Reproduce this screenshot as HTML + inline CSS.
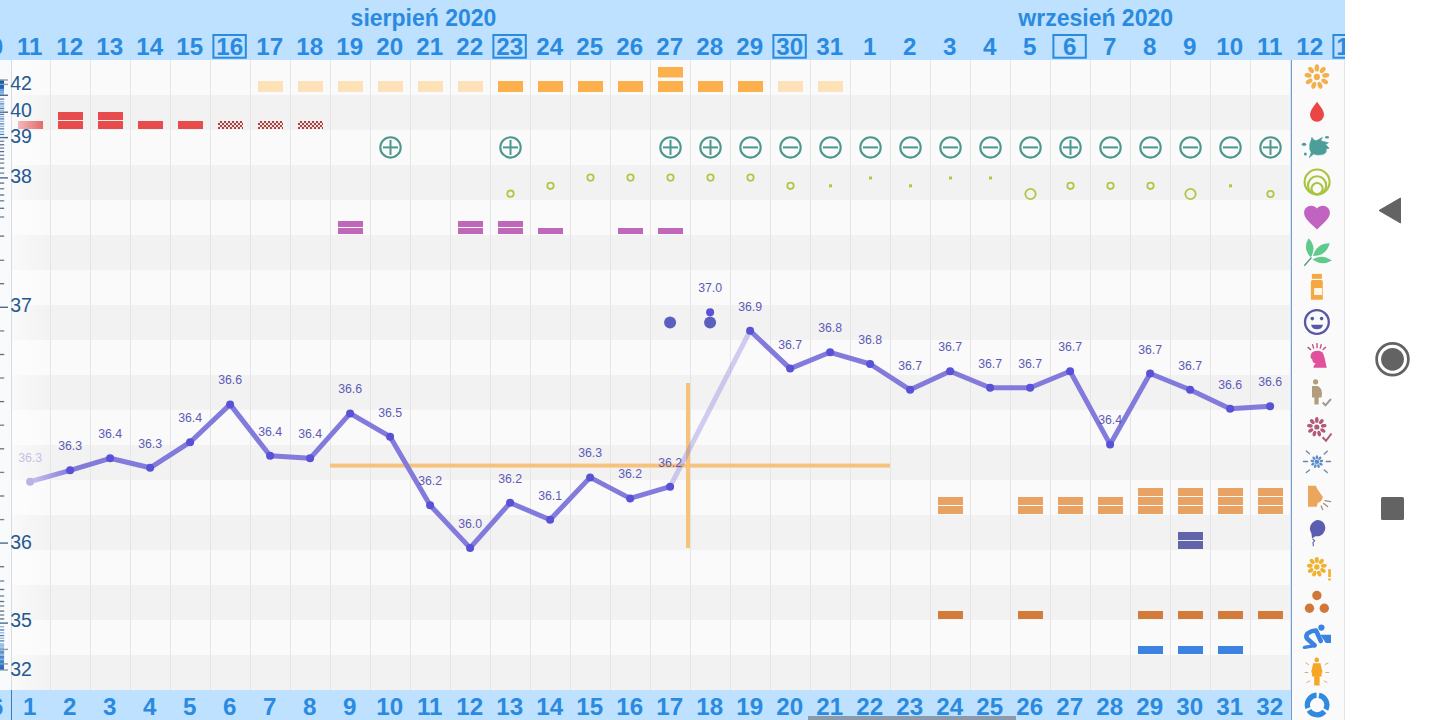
<!DOCTYPE html><html><head><meta charset="utf-8"><style>html,body{margin:0;padding:0;width:1440px;height:720px;overflow:hidden;background:#fff;}svg{display:block;font-family:"Liberation Sans",sans-serif;}</style></head><body><svg width="1440" height="720" viewBox="0 0 1440 720"><rect x="0" y="60" width="1291" height="35" fill="#fafafa"/><rect x="0" y="95" width="1291" height="35" fill="#f2f2f2"/><rect x="0" y="130" width="1291" height="35" fill="#fafafa"/><rect x="0" y="165" width="1291" height="35" fill="#f2f2f2"/><rect x="0" y="200" width="1291" height="35" fill="#fafafa"/><rect x="0" y="235" width="1291" height="35" fill="#f2f2f2"/><rect x="0" y="270" width="1291" height="35" fill="#fafafa"/><rect x="0" y="305" width="1291" height="35" fill="#f2f2f2"/><rect x="0" y="340" width="1291" height="35" fill="#fafafa"/><rect x="0" y="375" width="1291" height="35" fill="#f2f2f2"/><rect x="0" y="410" width="1291" height="35" fill="#fafafa"/><rect x="0" y="445" width="1291" height="35" fill="#f2f2f2"/><rect x="0" y="480" width="1291" height="35" fill="#fafafa"/><rect x="0" y="515" width="1291" height="35" fill="#f2f2f2"/><rect x="0" y="550" width="1291" height="35" fill="#fafafa"/><rect x="0" y="585" width="1291" height="35" fill="#f2f2f2"/><rect x="0" y="620" width="1291" height="35" fill="#fafafa"/><rect x="0" y="655" width="1291" height="35" fill="#f2f2f2"/><rect x="50" y="60" width="1" height="630" fill="#e5e5e5"/><rect x="90" y="60" width="1" height="630" fill="#e5e5e5"/><rect x="130" y="60" width="1" height="630" fill="#e5e5e5"/><rect x="170" y="60" width="1" height="630" fill="#e5e5e5"/><rect x="210" y="60" width="1" height="630" fill="#e5e5e5"/><rect x="250" y="60" width="1" height="630" fill="#e5e5e5"/><rect x="290" y="60" width="1" height="630" fill="#e5e5e5"/><rect x="330" y="60" width="1" height="630" fill="#e5e5e5"/><rect x="370" y="60" width="1" height="630" fill="#e5e5e5"/><rect x="410" y="60" width="1" height="630" fill="#e5e5e5"/><rect x="450" y="60" width="1" height="630" fill="#e5e5e5"/><rect x="490" y="60" width="1" height="630" fill="#e5e5e5"/><rect x="530" y="60" width="1" height="630" fill="#e5e5e5"/><rect x="570" y="60" width="1" height="630" fill="#e5e5e5"/><rect x="610" y="60" width="1" height="630" fill="#e5e5e5"/><rect x="650" y="60" width="1" height="630" fill="#e5e5e5"/><rect x="690" y="60" width="1" height="630" fill="#e5e5e5"/><rect x="730" y="60" width="1" height="630" fill="#e5e5e5"/><rect x="770" y="60" width="1" height="630" fill="#e5e5e5"/><rect x="810" y="60" width="1" height="630" fill="#e5e5e5"/><rect x="850" y="60" width="1" height="630" fill="#e5e5e5"/><rect x="890" y="60" width="1" height="630" fill="#e5e5e5"/><rect x="930" y="60" width="1" height="630" fill="#e5e5e5"/><rect x="970" y="60" width="1" height="630" fill="#e5e5e5"/><rect x="1010" y="60" width="1" height="630" fill="#e5e5e5"/><rect x="1050" y="60" width="1" height="630" fill="#e5e5e5"/><rect x="1090" y="60" width="1" height="630" fill="#e5e5e5"/><rect x="1130" y="60" width="1" height="630" fill="#e5e5e5"/><rect x="1170" y="60" width="1" height="630" fill="#e5e5e5"/><rect x="1210" y="60" width="1" height="630" fill="#e5e5e5"/><rect x="1250" y="60" width="1" height="630" fill="#e5e5e5"/><rect x="1290" y="60" width="1" height="630" fill="#d5e7f7"/><rect x="0" y="0" width="1345" height="60" fill="#bde1fe"/><text x="423.5" y="26" font-size="23" font-weight="bold" fill="#2a8ae0" text-anchor="middle">sierpień 2020</text><text x="1095.7" y="26" font-size="23" font-weight="bold" fill="#2a8ae0" text-anchor="middle">wrzesień 2020</text><text transform="translate(-10.30,55) scale(1.05,1)" font-size="23" font-weight="bold" fill="#2a8ae0" text-anchor="middle">10</text><text transform="translate(29.70,55) scale(1.05,1)" font-size="23" font-weight="bold" fill="#2a8ae0" text-anchor="middle">11</text><text transform="translate(69.70,55) scale(1.05,1)" font-size="23" font-weight="bold" fill="#2a8ae0" text-anchor="middle">12</text><text transform="translate(109.70,55) scale(1.05,1)" font-size="23" font-weight="bold" fill="#2a8ae0" text-anchor="middle">13</text><text transform="translate(149.70,55) scale(1.05,1)" font-size="23" font-weight="bold" fill="#2a8ae0" text-anchor="middle">14</text><text transform="translate(189.70,55) scale(1.05,1)" font-size="23" font-weight="bold" fill="#2a8ae0" text-anchor="middle">15</text><text transform="translate(229.70,55) scale(1.05,1)" font-size="23" font-weight="bold" fill="#2a8ae0" text-anchor="middle">16</text><rect x="213.39999999999998" y="35" width="32.4" height="22.7" fill="none" stroke="#2a8ae0" stroke-width="2"/><text transform="translate(269.70,55) scale(1.05,1)" font-size="23" font-weight="bold" fill="#2a8ae0" text-anchor="middle">17</text><text transform="translate(309.70,55) scale(1.05,1)" font-size="23" font-weight="bold" fill="#2a8ae0" text-anchor="middle">18</text><text transform="translate(349.70,55) scale(1.05,1)" font-size="23" font-weight="bold" fill="#2a8ae0" text-anchor="middle">19</text><text transform="translate(389.70,55) scale(1.05,1)" font-size="23" font-weight="bold" fill="#2a8ae0" text-anchor="middle">20</text><text transform="translate(429.70,55) scale(1.05,1)" font-size="23" font-weight="bold" fill="#2a8ae0" text-anchor="middle">21</text><text transform="translate(469.70,55) scale(1.05,1)" font-size="23" font-weight="bold" fill="#2a8ae0" text-anchor="middle">22</text><text transform="translate(509.70,55) scale(1.05,1)" font-size="23" font-weight="bold" fill="#2a8ae0" text-anchor="middle">23</text><rect x="493.4" y="35" width="32.4" height="22.7" fill="none" stroke="#2a8ae0" stroke-width="2"/><text transform="translate(549.70,55) scale(1.05,1)" font-size="23" font-weight="bold" fill="#2a8ae0" text-anchor="middle">24</text><text transform="translate(589.70,55) scale(1.05,1)" font-size="23" font-weight="bold" fill="#2a8ae0" text-anchor="middle">25</text><text transform="translate(629.70,55) scale(1.05,1)" font-size="23" font-weight="bold" fill="#2a8ae0" text-anchor="middle">26</text><text transform="translate(669.70,55) scale(1.05,1)" font-size="23" font-weight="bold" fill="#2a8ae0" text-anchor="middle">27</text><text transform="translate(709.70,55) scale(1.05,1)" font-size="23" font-weight="bold" fill="#2a8ae0" text-anchor="middle">28</text><text transform="translate(749.70,55) scale(1.05,1)" font-size="23" font-weight="bold" fill="#2a8ae0" text-anchor="middle">29</text><text transform="translate(789.70,55) scale(1.05,1)" font-size="23" font-weight="bold" fill="#2a8ae0" text-anchor="middle">30</text><rect x="773.4000000000001" y="35" width="32.4" height="22.7" fill="none" stroke="#2a8ae0" stroke-width="2"/><text transform="translate(829.70,55) scale(1.05,1)" font-size="23" font-weight="bold" fill="#2a8ae0" text-anchor="middle">31</text><text transform="translate(869.70,55) scale(1.05,1)" font-size="23" font-weight="bold" fill="#2a8ae0" text-anchor="middle">1</text><text transform="translate(909.70,55) scale(1.05,1)" font-size="23" font-weight="bold" fill="#2a8ae0" text-anchor="middle">2</text><text transform="translate(949.70,55) scale(1.05,1)" font-size="23" font-weight="bold" fill="#2a8ae0" text-anchor="middle">3</text><text transform="translate(989.70,55) scale(1.05,1)" font-size="23" font-weight="bold" fill="#2a8ae0" text-anchor="middle">4</text><text transform="translate(1029.70,55) scale(1.05,1)" font-size="23" font-weight="bold" fill="#2a8ae0" text-anchor="middle">5</text><text transform="translate(1069.70,55) scale(1.05,1)" font-size="23" font-weight="bold" fill="#2a8ae0" text-anchor="middle">6</text><rect x="1053.4" y="35" width="32.4" height="22.7" fill="none" stroke="#2a8ae0" stroke-width="2"/><text transform="translate(1109.70,55) scale(1.05,1)" font-size="23" font-weight="bold" fill="#2a8ae0" text-anchor="middle">7</text><text transform="translate(1149.70,55) scale(1.05,1)" font-size="23" font-weight="bold" fill="#2a8ae0" text-anchor="middle">8</text><text transform="translate(1189.70,55) scale(1.05,1)" font-size="23" font-weight="bold" fill="#2a8ae0" text-anchor="middle">9</text><text transform="translate(1229.70,55) scale(1.05,1)" font-size="23" font-weight="bold" fill="#2a8ae0" text-anchor="middle">10</text><text transform="translate(1269.70,55) scale(1.05,1)" font-size="23" font-weight="bold" fill="#2a8ae0" text-anchor="middle">11</text><text transform="translate(1309.70,55) scale(1.05,1)" font-size="23" font-weight="bold" fill="#2a8ae0" text-anchor="middle">12</text><text transform="translate(1349.70,55) scale(1.05,1)" font-size="23" font-weight="bold" fill="#2a8ae0" text-anchor="middle">13</text><rect x="1333.4" y="35" width="32.4" height="22.7" fill="none" stroke="#2a8ae0" stroke-width="2"/><rect x="0" y="690" width="1291" height="30" fill="#bde1fe"/><rect x="11" y="690" width="1" height="30" fill="#3c7ab8"/><text x="-9.5" y="715" font-size="23" font-weight="bold" fill="#2a8ae0" text-anchor="middle">26</text><text transform="translate(29.70,715) scale(1.05,1)" font-size="23" font-weight="bold" fill="#2a8ae0" text-anchor="middle">1</text><text transform="translate(69.70,715) scale(1.05,1)" font-size="23" font-weight="bold" fill="#2a8ae0" text-anchor="middle">2</text><text transform="translate(109.70,715) scale(1.05,1)" font-size="23" font-weight="bold" fill="#2a8ae0" text-anchor="middle">3</text><text transform="translate(149.70,715) scale(1.05,1)" font-size="23" font-weight="bold" fill="#2a8ae0" text-anchor="middle">4</text><text transform="translate(189.70,715) scale(1.05,1)" font-size="23" font-weight="bold" fill="#2a8ae0" text-anchor="middle">5</text><text transform="translate(229.70,715) scale(1.05,1)" font-size="23" font-weight="bold" fill="#2a8ae0" text-anchor="middle">6</text><text transform="translate(269.70,715) scale(1.05,1)" font-size="23" font-weight="bold" fill="#2a8ae0" text-anchor="middle">7</text><text transform="translate(309.70,715) scale(1.05,1)" font-size="23" font-weight="bold" fill="#2a8ae0" text-anchor="middle">8</text><text transform="translate(349.70,715) scale(1.05,1)" font-size="23" font-weight="bold" fill="#2a8ae0" text-anchor="middle">9</text><text transform="translate(389.70,715) scale(1.05,1)" font-size="23" font-weight="bold" fill="#2a8ae0" text-anchor="middle">10</text><text transform="translate(429.70,715) scale(1.05,1)" font-size="23" font-weight="bold" fill="#2a8ae0" text-anchor="middle">11</text><text transform="translate(469.70,715) scale(1.05,1)" font-size="23" font-weight="bold" fill="#2a8ae0" text-anchor="middle">12</text><text transform="translate(509.70,715) scale(1.05,1)" font-size="23" font-weight="bold" fill="#2a8ae0" text-anchor="middle">13</text><text transform="translate(549.70,715) scale(1.05,1)" font-size="23" font-weight="bold" fill="#2a8ae0" text-anchor="middle">14</text><text transform="translate(589.70,715) scale(1.05,1)" font-size="23" font-weight="bold" fill="#2a8ae0" text-anchor="middle">15</text><text transform="translate(629.70,715) scale(1.05,1)" font-size="23" font-weight="bold" fill="#2a8ae0" text-anchor="middle">16</text><text transform="translate(669.70,715) scale(1.05,1)" font-size="23" font-weight="bold" fill="#2a8ae0" text-anchor="middle">17</text><text transform="translate(709.70,715) scale(1.05,1)" font-size="23" font-weight="bold" fill="#2a8ae0" text-anchor="middle">18</text><text transform="translate(749.70,715) scale(1.05,1)" font-size="23" font-weight="bold" fill="#2a8ae0" text-anchor="middle">19</text><text transform="translate(789.70,715) scale(1.05,1)" font-size="23" font-weight="bold" fill="#2a8ae0" text-anchor="middle">20</text><text transform="translate(829.70,715) scale(1.05,1)" font-size="23" font-weight="bold" fill="#2a8ae0" text-anchor="middle">21</text><text transform="translate(869.70,715) scale(1.05,1)" font-size="23" font-weight="bold" fill="#2a8ae0" text-anchor="middle">22</text><text transform="translate(909.70,715) scale(1.05,1)" font-size="23" font-weight="bold" fill="#2a8ae0" text-anchor="middle">23</text><text transform="translate(949.70,715) scale(1.05,1)" font-size="23" font-weight="bold" fill="#2a8ae0" text-anchor="middle">24</text><text transform="translate(989.70,715) scale(1.05,1)" font-size="23" font-weight="bold" fill="#2a8ae0" text-anchor="middle">25</text><text transform="translate(1029.70,715) scale(1.05,1)" font-size="23" font-weight="bold" fill="#2a8ae0" text-anchor="middle">26</text><text transform="translate(1069.70,715) scale(1.05,1)" font-size="23" font-weight="bold" fill="#2a8ae0" text-anchor="middle">27</text><text transform="translate(1109.70,715) scale(1.05,1)" font-size="23" font-weight="bold" fill="#2a8ae0" text-anchor="middle">28</text><text transform="translate(1149.70,715) scale(1.05,1)" font-size="23" font-weight="bold" fill="#2a8ae0" text-anchor="middle">29</text><text transform="translate(1189.70,715) scale(1.05,1)" font-size="23" font-weight="bold" fill="#2a8ae0" text-anchor="middle">30</text><text transform="translate(1229.70,715) scale(1.05,1)" font-size="23" font-weight="bold" fill="#2a8ae0" text-anchor="middle">31</text><text transform="translate(1269.70,715) scale(1.05,1)" font-size="23" font-weight="bold" fill="#2a8ae0" text-anchor="middle">32</text><rect x="808" y="716" width="208" height="4" fill="#8c9bab"/><rect x="1291" y="60" width="54" height="660" fill="#fafafa"/><rect x="1291" y="60" width="1" height="660" fill="#7a9cc4"/><rect x="1344" y="60" width="1" height="660" fill="#e4e4e4"/><defs><linearGradient id="lf" x1="0" x2="1"><stop offset="0" stop-color="#ffffff" stop-opacity="0.55"/><stop offset="1" stop-color="#ffffff" stop-opacity="0"/></linearGradient></defs><rect x="12" y="60" width="40" height="630" fill="url(#lf)"/><rect x="0" y="60" width="11" height="630" fill="#f8fafc"/><rect x="11" y="60" width="1" height="630" fill="#d3dde8"/><defs><linearGradient id="gtop" x1="0" y1="0" x2="0" y2="1"><stop offset="0" stop-color="#12589f"/><stop offset="0.5" stop-color="#1d68bb"/><stop offset="1" stop-color="#7fb0e0"/></linearGradient><linearGradient id="gbot" x1="0" y1="0" x2="0" y2="1"><stop offset="0" stop-color="#a6c8ea"/><stop offset="0.6" stop-color="#4f8fd2"/><stop offset="1" stop-color="#1763bd"/></linearGradient></defs><rect x="0" y="79.8" width="4" height="15.7" fill="url(#gtop)"/><rect x="0" y="643" width="4" height="27" fill="url(#gbot)"/><rect x="0" y="89.5" width="4" height="0.8" fill="#f8fafc" opacity="0.7"/><rect x="0" y="91.5" width="4" height="0.8" fill="#f8fafc" opacity="0.7"/><rect x="0" y="93.5" width="4" height="0.8" fill="#f8fafc" opacity="0.7"/><rect x="0" y="646.5" width="4" height="0.8" fill="#f8fafc" opacity="0.7"/><rect x="0" y="650.8" width="4" height="0.8" fill="#f8fafc" opacity="0.7"/><rect x="0" y="655.5" width="4" height="0.8" fill="#f8fafc" opacity="0.7"/><rect x="0" y="98.44999999999999" width="4.2" height="1.3" fill="#4f7fb8"/><rect x="0" y="101.05" width="4.2" height="1.3" fill="#8fb6e0"/><rect x="0" y="103.25" width="4.2" height="1.3" fill="#4f7fb8"/><rect x="0" y="105.44999999999999" width="4.2" height="1.3" fill="#8fb6e0"/><rect x="0" y="107.64999999999999" width="4.2" height="1.3" fill="#4f7fb8"/><rect x="0" y="109.55" width="4.2" height="1.3" fill="#8fb6e0"/><rect x="0" y="113.75" width="4.2" height="1.3" fill="#4f7fb8"/><rect x="0" y="116.05" width="4.2" height="1.3" fill="#8fb6e0"/><rect x="0" y="118.25" width="4.2" height="1.3" fill="#4f7fb8"/><rect x="0" y="120.64999999999999" width="4.2" height="1.3" fill="#8fb6e0"/><rect x="0" y="123.25" width="4.2" height="1.3" fill="#4f7fb8"/><rect x="0" y="125.75" width="4.2" height="1.3" fill="#8fb6e0"/><rect x="0" y="128.25" width="4.2" height="1.3" fill="#4f7fb8"/><rect x="0" y="131.04999999999998" width="4.2" height="1.3" fill="#8fb6e0"/><rect x="0" y="133.75" width="4.2" height="1.3" fill="#4f7fb8"/><rect x="0" y="140.6" width="4.2" height="1.3" fill="#6d8298"/><rect x="0" y="144.1" width="4.2" height="1.3" fill="#5b7088"/><rect x="0" y="147.45" width="4.2" height="1.3" fill="#6d8298"/><rect x="0" y="150.95" width="4.2" height="1.3" fill="#5b7088"/><rect x="0" y="154.6" width="4.2" height="1.3" fill="#6d8298"/><rect x="0" y="158.35" width="4.2" height="1.3" fill="#5b7088"/><rect x="0" y="162.45" width="4.2" height="1.3" fill="#6d8298"/><rect x="0" y="167.45" width="4.2" height="1.3" fill="#5b7088"/><rect x="0" y="172.45" width="4.2" height="1.3" fill="#6d8298"/><rect x="0" y="182.45" width="4.2" height="1.3" fill="#5b7088"/><rect x="0" y="188.1" width="4.2" height="1.3" fill="#6d8298"/><rect x="0" y="194.35" width="4.2" height="1.3" fill="#5b7088"/><rect x="0" y="200.15" width="4.2" height="1.3" fill="#6d8298"/><rect x="0" y="207.65" width="4.2" height="1.3" fill="#5b7088"/><rect x="0" y="216.35" width="4.2" height="1.3" fill="#6d8298"/><rect x="0" y="235.45" width="4.2" height="1.3" fill="#5b7088"/><rect x="0" y="259.65000000000003" width="4.2" height="1.3" fill="#6d8298"/><rect x="0" y="283.05" width="4.2" height="1.3" fill="#5b7088"/><rect x="0" y="330.25" width="4.2" height="1.3" fill="#6d8298"/><rect x="0" y="353.85" width="4.2" height="1.3" fill="#5b7088"/><rect x="0" y="377.35" width="4.2" height="1.3" fill="#6d8298"/><rect x="0" y="400.95000000000005" width="4.2" height="1.3" fill="#5b7088"/><rect x="0" y="424.55" width="4.2" height="1.3" fill="#6d8298"/><rect x="0" y="448.15000000000003" width="4.2" height="1.3" fill="#5b7088"/><rect x="0" y="471.75" width="4.2" height="1.3" fill="#6d8298"/><rect x="0" y="495.35" width="4.2" height="1.3" fill="#5b7088"/><rect x="0" y="518.95" width="4.2" height="1.3" fill="#6d8298"/><rect x="0" y="566.0500000000001" width="4.2" height="1.3" fill="#5b7088"/><rect x="0" y="580.35" width="4.2" height="1.3" fill="#6d8298"/><rect x="0" y="588.85" width="4.2" height="1.3" fill="#5b7088"/><rect x="0" y="595.35" width="4.2" height="1.3" fill="#6d8298"/><rect x="0" y="600.85" width="4.2" height="1.3" fill="#5b7088"/><rect x="0" y="605.35" width="4.2" height="1.3" fill="#6d8298"/><rect x="0" y="610.45" width="4.2" height="1.3" fill="#5b7088"/><rect x="0" y="614.35" width="4.2" height="1.3" fill="#6d8298"/><rect x="0" y="618.25" width="4.2" height="1.3" fill="#5b7088"/><rect x="0" y="626.0500000000001" width="4.2" height="1.3" fill="#8fb6e0"/><rect x="0" y="629.35" width="4.2" height="1.3" fill="#4f7fb8"/><rect x="0" y="632.15" width="4.2" height="1.3" fill="#8fb6e0"/><rect x="0" y="634.95" width="4.2" height="1.3" fill="#4f7fb8"/><rect x="0" y="637.65" width="4.2" height="1.3" fill="#8fb6e0"/><rect x="0" y="640.25" width="4.2" height="1.3" fill="#4f7fb8"/><rect x="0" y="645.15" width="4.2" height="1.3" fill="#8fb6e0"/><rect x="0" y="651.35" width="4.2" height="1.3" fill="#4f7fb8"/><rect x="0" y="653.75" width="4.2" height="1.3" fill="#8fb6e0"/><rect x="0" y="656.0500000000001" width="4.2" height="1.3" fill="#4f7fb8"/><rect x="0" y="658.75" width="4.2" height="1.3" fill="#8fb6e0"/><rect x="0" y="79.3" width="8" height="1.4" fill="#8e9eae"/><rect x="0" y="83.7" width="8" height="1.4" fill="#8e9eae"/><rect x="0" y="94.6" width="8" height="1.4" fill="#4d6c8c"/><rect x="0" y="111.5" width="8" height="1.4" fill="#4d6c8c"/><rect x="0" y="136.9" width="8" height="1.4" fill="#4d6c8c"/><rect x="0" y="177.20000000000002" width="8" height="1.4" fill="#4d6c8c"/><rect x="0" y="306.6" width="8" height="1.4" fill="#4d6c8c"/><rect x="0" y="542.4" width="8" height="1.4" fill="#4d6c8c"/><rect x="0" y="622.4" width="8" height="1.4" fill="#4d6c8c"/><rect x="0" y="648.6999999999999" width="8" height="1.4" fill="#8e9eae"/><rect x="0" y="663.1999999999999" width="8" height="1.4" fill="#8e9eae"/><rect x="0" y="669.3" width="8" height="1.4" fill="#8e9eae"/><text x="10.2" y="90" font-size="19.5" fill="#25598f">42</text><text x="10.2" y="117" font-size="19.5" fill="#25598f">40</text><text x="10.2" y="143.3" font-size="19.5" fill="#25598f">39</text><text x="10.2" y="183" font-size="19.5" fill="#25598f">38</text><text x="10.2" y="312" font-size="19.5" fill="#25598f">37</text><text x="10.2" y="549.2" font-size="19.5" fill="#25598f">36</text><text x="10.2" y="626.7" font-size="19.5" fill="#25598f">35</text><text x="10.2" y="676.4" font-size="19.5" fill="#25598f">32</text><rect x="258.0" y="81" width="25" height="11" fill="#fde1b9"/><rect x="298.0" y="81" width="25" height="11" fill="#fde1b9"/><rect x="338.0" y="81" width="25" height="11" fill="#fde1b9"/><rect x="378.0" y="81" width="25" height="11" fill="#fde1b9"/><rect x="418.0" y="81" width="25" height="11" fill="#fde1b9"/><rect x="458.0" y="81" width="25" height="11" fill="#fde1b9"/><rect x="498.0" y="81" width="25" height="11" fill="#fbb04b"/><rect x="538.0" y="81" width="25" height="11" fill="#fbb04b"/><rect x="578.0" y="81" width="25" height="11" fill="#fbb04b"/><rect x="618.0" y="81" width="25" height="11" fill="#fbb04b"/><rect x="658.0" y="81" width="25" height="11" fill="#fbb04b"/><rect x="698.0" y="81" width="25" height="11" fill="#fbb04b"/><rect x="738.0" y="81" width="25" height="11" fill="#fbb04b"/><rect x="658.0" y="67" width="25" height="10.5" fill="#fbb04b"/><rect x="778.0" y="81" width="25" height="11" fill="#fde1b9"/><rect x="818.0" y="81" width="25" height="11" fill="#fde1b9"/><defs><linearGradient id="pk" x1="0" x2="1" y1="0" y2="0"><stop offset="0" stop-color="#f4b9b9"/><stop offset="1" stop-color="#e46a6a"/></linearGradient><pattern id="chk" x="0" y="121" width="4" height="4" patternUnits="userSpaceOnUse"><rect width="4" height="4" fill="#f8e2e2"/><rect width="2" height="2" fill="#a94444"/><rect x="2" y="2" width="2" height="2" fill="#a94444"/></pattern><linearGradient id="t1" x1="0" x2="1"><stop offset="0" stop-color="#c9c4ee"/><stop offset="1" stop-color="#837bdc"/></linearGradient></defs><rect x="18.0" y="121" width="25" height="8" fill="url(#pk)"/><rect x="58.0" y="112" width="25" height="8" fill="#e84b4b"/><rect x="58.0" y="121" width="25" height="8" fill="#e84b4b"/><rect x="98.0" y="112" width="25" height="8" fill="#e84b4b"/><rect x="98.0" y="121" width="25" height="8" fill="#e84b4b"/><rect x="138.0" y="121" width="25" height="8" fill="#e84b4b"/><rect x="178.0" y="121" width="25" height="8" fill="#e84b4b"/><rect x="218.0" y="121" width="25" height="8" fill="url(#chk)"/><rect x="258.0" y="121" width="25" height="8" fill="url(#chk)"/><rect x="298.0" y="121" width="25" height="8" fill="url(#chk)"/><circle cx="390.5" cy="147.4" r="10.2" fill="none" stroke="#4c9891" stroke-width="2.1"/><rect x="383.0" y="146.4" width="15" height="2" fill="#4c9891"/><rect x="389.5" y="139.9" width="2" height="15" fill="#4c9891"/><circle cx="510.5" cy="147.4" r="10.2" fill="none" stroke="#4c9891" stroke-width="2.1"/><rect x="503.0" y="146.4" width="15" height="2" fill="#4c9891"/><rect x="509.5" y="139.9" width="2" height="15" fill="#4c9891"/><circle cx="670.5" cy="147.4" r="10.2" fill="none" stroke="#4c9891" stroke-width="2.1"/><rect x="663.0" y="146.4" width="15" height="2" fill="#4c9891"/><rect x="669.5" y="139.9" width="2" height="15" fill="#4c9891"/><circle cx="710.5" cy="147.4" r="10.2" fill="none" stroke="#4c9891" stroke-width="2.1"/><rect x="703.0" y="146.4" width="15" height="2" fill="#4c9891"/><rect x="709.5" y="139.9" width="2" height="15" fill="#4c9891"/><circle cx="750.5" cy="147.4" r="10.2" fill="none" stroke="#4c9891" stroke-width="2.1"/><rect x="743.0" y="146.4" width="15" height="2" fill="#4c9891"/><circle cx="790.5" cy="147.4" r="10.2" fill="none" stroke="#4c9891" stroke-width="2.1"/><rect x="783.0" y="146.4" width="15" height="2" fill="#4c9891"/><circle cx="830.5" cy="147.4" r="10.2" fill="none" stroke="#4c9891" stroke-width="2.1"/><rect x="823.0" y="146.4" width="15" height="2" fill="#4c9891"/><circle cx="870.5" cy="147.4" r="10.2" fill="none" stroke="#4c9891" stroke-width="2.1"/><rect x="863.0" y="146.4" width="15" height="2" fill="#4c9891"/><circle cx="910.5" cy="147.4" r="10.2" fill="none" stroke="#4c9891" stroke-width="2.1"/><rect x="903.0" y="146.4" width="15" height="2" fill="#4c9891"/><circle cx="950.5" cy="147.4" r="10.2" fill="none" stroke="#4c9891" stroke-width="2.1"/><rect x="943.0" y="146.4" width="15" height="2" fill="#4c9891"/><circle cx="990.5" cy="147.4" r="10.2" fill="none" stroke="#4c9891" stroke-width="2.1"/><rect x="983.0" y="146.4" width="15" height="2" fill="#4c9891"/><circle cx="1030.5" cy="147.4" r="10.2" fill="none" stroke="#4c9891" stroke-width="2.1"/><rect x="1023.0" y="146.4" width="15" height="2" fill="#4c9891"/><circle cx="1070.5" cy="147.4" r="10.2" fill="none" stroke="#4c9891" stroke-width="2.1"/><rect x="1063.0" y="146.4" width="15" height="2" fill="#4c9891"/><rect x="1069.5" y="139.9" width="2" height="15" fill="#4c9891"/><circle cx="1110.5" cy="147.4" r="10.2" fill="none" stroke="#4c9891" stroke-width="2.1"/><rect x="1103.0" y="146.4" width="15" height="2" fill="#4c9891"/><circle cx="1150.5" cy="147.4" r="10.2" fill="none" stroke="#4c9891" stroke-width="2.1"/><rect x="1143.0" y="146.4" width="15" height="2" fill="#4c9891"/><circle cx="1190.5" cy="147.4" r="10.2" fill="none" stroke="#4c9891" stroke-width="2.1"/><rect x="1183.0" y="146.4" width="15" height="2" fill="#4c9891"/><circle cx="1230.5" cy="147.4" r="10.2" fill="none" stroke="#4c9891" stroke-width="2.1"/><rect x="1223.0" y="146.4" width="15" height="2" fill="#4c9891"/><circle cx="1270.5" cy="147.4" r="10.2" fill="none" stroke="#4c9891" stroke-width="2.1"/><rect x="1263.0" y="146.4" width="15" height="2" fill="#4c9891"/><rect x="1269.5" y="139.9" width="2" height="15" fill="#4c9891"/><circle cx="510.5" cy="193.7" r="3.2" fill="none" stroke="#b0c744" stroke-width="1.8"/><circle cx="550.5" cy="185.8" r="3.2" fill="none" stroke="#b0c744" stroke-width="1.8"/><circle cx="590.5" cy="177.6" r="3.2" fill="none" stroke="#b0c744" stroke-width="1.8"/><circle cx="630.5" cy="177.6" r="3.2" fill="none" stroke="#b0c744" stroke-width="1.8"/><circle cx="670.5" cy="177.6" r="3.2" fill="none" stroke="#b0c744" stroke-width="1.8"/><circle cx="710.5" cy="177.6" r="3.2" fill="none" stroke="#b0c744" stroke-width="1.8"/><circle cx="750.5" cy="177.6" r="3.2" fill="none" stroke="#b0c744" stroke-width="1.8"/><circle cx="790.5" cy="185.8" r="3.2" fill="none" stroke="#b0c744" stroke-width="1.8"/><rect x="829.0" y="184.3" width="3" height="3" fill="#b0c744"/><rect x="869.0" y="176.5" width="3" height="3" fill="#b0c744"/><rect x="909.0" y="184.3" width="3" height="3" fill="#b0c744"/><rect x="949.0" y="176.5" width="3" height="3" fill="#b0c744"/><rect x="989.0" y="176.5" width="3" height="3" fill="#b0c744"/><circle cx="1030.5" cy="194" r="5.2" fill="none" stroke="#b0c744" stroke-width="1.8"/><circle cx="1070.5" cy="185.8" r="3.2" fill="none" stroke="#b0c744" stroke-width="1.8"/><circle cx="1110.5" cy="185.8" r="3.2" fill="none" stroke="#b0c744" stroke-width="1.8"/><circle cx="1150.5" cy="185.8" r="3.2" fill="none" stroke="#b0c744" stroke-width="1.8"/><circle cx="1190.5" cy="194" r="5.2" fill="none" stroke="#b0c744" stroke-width="1.8"/><rect x="1229.0" y="184.3" width="3" height="3" fill="#b0c744"/><circle cx="1270.5" cy="194" r="3.2" fill="none" stroke="#b0c744" stroke-width="1.8"/><rect x="338.0" y="221" width="25" height="6" fill="#c067b9"/><rect x="338.0" y="228" width="25" height="6" fill="#c067b9"/><rect x="458.0" y="221" width="25" height="6" fill="#c067b9"/><rect x="458.0" y="228" width="25" height="6" fill="#c067b9"/><rect x="498.0" y="221" width="25" height="6" fill="#c067b9"/><rect x="498.0" y="228" width="25" height="6" fill="#c067b9"/><rect x="538.0" y="228" width="25" height="6" fill="#c067b9"/><rect x="618.0" y="228" width="25" height="6" fill="#c067b9"/><rect x="658.0" y="228" width="25" height="6" fill="#c067b9"/><rect x="938.0" y="497" width="25" height="8" fill="#e8a263"/><rect x="938.0" y="506" width="25" height="8" fill="#e8a263"/><rect x="1018.0" y="497" width="25" height="8" fill="#e8a263"/><rect x="1018.0" y="506" width="25" height="8" fill="#e8a263"/><rect x="1058.0" y="497" width="25" height="8" fill="#e8a263"/><rect x="1058.0" y="506" width="25" height="8" fill="#e8a263"/><rect x="1098.0" y="497" width="25" height="8" fill="#e8a263"/><rect x="1098.0" y="506" width="25" height="8" fill="#e8a263"/><rect x="1138.0" y="488" width="25" height="8" fill="#e8a263"/><rect x="1138.0" y="497" width="25" height="8" fill="#e8a263"/><rect x="1138.0" y="506" width="25" height="8" fill="#e8a263"/><rect x="1178.0" y="488" width="25" height="8" fill="#e8a263"/><rect x="1178.0" y="497" width="25" height="8" fill="#e8a263"/><rect x="1178.0" y="506" width="25" height="8" fill="#e8a263"/><rect x="1218.0" y="488" width="25" height="8" fill="#e8a263"/><rect x="1218.0" y="497" width="25" height="8" fill="#e8a263"/><rect x="1218.0" y="506" width="25" height="8" fill="#e8a263"/><rect x="1258.0" y="488" width="25" height="8" fill="#e8a263"/><rect x="1258.0" y="497" width="25" height="8" fill="#e8a263"/><rect x="1258.0" y="506" width="25" height="8" fill="#e8a263"/><rect x="1178.0" y="532" width="25" height="8" fill="#6264ab"/><rect x="1178.0" y="541" width="25" height="8" fill="#6264ab"/><rect x="938.0" y="611" width="25" height="8" fill="#d27b3b"/><rect x="1018.0" y="611" width="25" height="8" fill="#d27b3b"/><rect x="1138.0" y="611" width="25" height="8" fill="#d27b3b"/><rect x="1178.0" y="611" width="25" height="8" fill="#d27b3b"/><rect x="1218.0" y="611" width="25" height="8" fill="#d27b3b"/><rect x="1258.0" y="611" width="25" height="8" fill="#d27b3b"/><rect x="1138.0" y="646" width="25" height="8" fill="#3d83e2"/><rect x="1178.0" y="646" width="25" height="8" fill="#3d83e2"/><rect x="1218.0" y="646" width="25" height="8" fill="#3d83e2"/><rect x="330" y="463.6" width="560" height="4" fill="#f6c27c"/><rect x="686" y="383" width="4" height="165" fill="#f6c27c"/><line x1="670.1" y1="486.7" x2="750.1" y2="330.7" stroke="#837bdc" stroke-opacity="0.36" stroke-width="5"/><line x1="30.1" y1="481.7" x2="70.1" y2="470.3" stroke="url(#t1)" stroke-width="5"/><polyline points="70.1,470.3 110.1,458.3 150.1,467.8 190.1,442.2 230.1,404.4 270.1,455.8 310.1,458.3 350.1,413.4 390.1,436.7 430.1,505.2 470.1,547.9 510.1,502.8 550.1,519.7 590.1,477.4 630.1,498.4 670.1,486.7" fill="none" stroke="#837bdc" stroke-width="5" stroke-linejoin="round"/><polyline points="750.1,330.7 790.1,368.6 830.1,352.3 870.1,364 910.1,389.8 950.1,371.3 990.1,387.8 1030.1,387.8 1070.1,371.3 1110.1,444.4 1150.1,373.5 1190.1,389.8 1230.1,408.8 1270.1,406.3" fill="none" stroke="#837bdc" stroke-width="5" stroke-linejoin="round"/><circle cx="30.1" cy="481.7" r="4" fill="#b9b4e6"/><text x="30.1" y="461.7" font-size="12.3" fill="#c4c0e6" text-anchor="middle">36.3</text><circle cx="70.1" cy="470.3" r="4" fill="#5a52d6"/><text x="70.1" y="450.3" font-size="12.3" fill="#5f5ab8" text-anchor="middle">36.3</text><circle cx="110.1" cy="458.3" r="4" fill="#5a52d6"/><text x="110.1" y="438.3" font-size="12.3" fill="#5f5ab8" text-anchor="middle">36.4</text><circle cx="150.1" cy="467.8" r="4" fill="#5a52d6"/><text x="150.1" y="447.8" font-size="12.3" fill="#5f5ab8" text-anchor="middle">36.3</text><circle cx="190.1" cy="442.2" r="4" fill="#5a52d6"/><text x="190.1" y="422.2" font-size="12.3" fill="#5f5ab8" text-anchor="middle">36.4</text><circle cx="230.1" cy="404.4" r="4" fill="#5a52d6"/><text x="230.1" y="384.4" font-size="12.3" fill="#5f5ab8" text-anchor="middle">36.6</text><circle cx="270.1" cy="455.8" r="4" fill="#5a52d6"/><text x="270.1" y="435.8" font-size="12.3" fill="#5f5ab8" text-anchor="middle">36.4</text><circle cx="310.1" cy="458.3" r="4" fill="#5a52d6"/><text x="310.1" y="438.3" font-size="12.3" fill="#5f5ab8" text-anchor="middle">36.4</text><circle cx="350.1" cy="413.4" r="4" fill="#5a52d6"/><text x="350.1" y="393.4" font-size="12.3" fill="#5f5ab8" text-anchor="middle">36.6</text><circle cx="390.1" cy="436.7" r="4" fill="#5a52d6"/><text x="390.1" y="416.7" font-size="12.3" fill="#5f5ab8" text-anchor="middle">36.5</text><circle cx="430.1" cy="505.2" r="4" fill="#5a52d6"/><text x="430.1" y="485.2" font-size="12.3" fill="#5f5ab8" text-anchor="middle">36.2</text><circle cx="470.1" cy="547.9" r="4" fill="#5a52d6"/><text x="470.1" y="527.9" font-size="12.3" fill="#5f5ab8" text-anchor="middle">36.0</text><circle cx="510.1" cy="502.8" r="4" fill="#5a52d6"/><text x="510.1" y="482.8" font-size="12.3" fill="#5f5ab8" text-anchor="middle">36.2</text><circle cx="550.1" cy="519.7" r="4" fill="#5a52d6"/><text x="550.1" y="499.70000000000005" font-size="12.3" fill="#5f5ab8" text-anchor="middle">36.1</text><circle cx="590.1" cy="477.4" r="4" fill="#5a52d6"/><text x="590.1" y="457.4" font-size="12.3" fill="#5f5ab8" text-anchor="middle">36.3</text><circle cx="630.1" cy="498.4" r="4" fill="#5a52d6"/><text x="630.1" y="478.4" font-size="12.3" fill="#5f5ab8" text-anchor="middle">36.2</text><circle cx="670.1" cy="486.7" r="4" fill="#5a52d6"/><text x="670.1" y="466.7" font-size="12.3" fill="#5f5ab8" text-anchor="middle">36.2</text><circle cx="750.1" cy="330.7" r="4" fill="#5a52d6"/><text x="750.1" y="310.7" font-size="12.3" fill="#5f5ab8" text-anchor="middle">36.9</text><circle cx="790.1" cy="368.6" r="4" fill="#5a52d6"/><text x="790.1" y="348.6" font-size="12.3" fill="#5f5ab8" text-anchor="middle">36.7</text><circle cx="830.1" cy="352.3" r="4" fill="#5a52d6"/><text x="830.1" y="332.3" font-size="12.3" fill="#5f5ab8" text-anchor="middle">36.8</text><circle cx="870.1" cy="364" r="4" fill="#5a52d6"/><text x="870.1" y="344.0" font-size="12.3" fill="#5f5ab8" text-anchor="middle">36.8</text><circle cx="910.1" cy="389.8" r="4" fill="#5a52d6"/><text x="910.1" y="369.8" font-size="12.3" fill="#5f5ab8" text-anchor="middle">36.7</text><circle cx="950.1" cy="371.3" r="4" fill="#5a52d6"/><text x="950.1" y="351.3" font-size="12.3" fill="#5f5ab8" text-anchor="middle">36.7</text><circle cx="990.1" cy="387.8" r="4" fill="#5a52d6"/><text x="990.1" y="367.8" font-size="12.3" fill="#5f5ab8" text-anchor="middle">36.7</text><circle cx="1030.1" cy="387.8" r="4" fill="#5a52d6"/><text x="1030.1" y="367.8" font-size="12.3" fill="#5f5ab8" text-anchor="middle">36.7</text><circle cx="1070.1" cy="371.3" r="4" fill="#5a52d6"/><text x="1070.1" y="351.3" font-size="12.3" fill="#5f5ab8" text-anchor="middle">36.7</text><circle cx="1110.1" cy="444.4" r="4" fill="#5a52d6"/><text x="1110.1" y="424.4" font-size="12.3" fill="#5f5ab8" text-anchor="middle">36.4</text><circle cx="1150.1" cy="373.5" r="4" fill="#5a52d6"/><text x="1150.1" y="353.5" font-size="12.3" fill="#5f5ab8" text-anchor="middle">36.7</text><circle cx="1190.1" cy="389.8" r="4" fill="#5a52d6"/><text x="1190.1" y="369.8" font-size="12.3" fill="#5f5ab8" text-anchor="middle">36.7</text><circle cx="1230.1" cy="408.8" r="4" fill="#5a52d6"/><text x="1230.1" y="388.8" font-size="12.3" fill="#5f5ab8" text-anchor="middle">36.6</text><circle cx="1270.1" cy="406.3" r="4" fill="#5a52d6"/><text x="1270.1" y="386.3" font-size="12.3" fill="#5f5ab8" text-anchor="middle">36.6</text><circle cx="670.1" cy="322.5" r="6" fill="#5d5fbf"/><circle cx="710.1" cy="322.5" r="6" fill="#5d5fbf"/><circle cx="710.1" cy="312.3" r="4" fill="#5a52d6"/><text x="710.1" y="292.4" font-size="12.3" fill="#5f5ab8" text-anchor="middle">37.0</text><rect x="1345" y="0" width="95" height="720" fill="#ffffff"/><path d="M1379,210.5 L1400.5,198 L1400.5,223 Z" fill="#636363" stroke="#636363" stroke-width="1" stroke-linejoin="round"/><circle cx="1392.5" cy="359.3" r="15.9" fill="none" stroke="#636363" stroke-width="2.7"/><circle cx="1392.5" cy="359.3" r="11.4" fill="#636363"/><rect x="1381" y="497" width="23" height="23" rx="1.5" fill="#636363"/><ellipse cx="1316.90" cy="67.90" rx="2.25" ry="3.6" transform="rotate(0.0 1316.90 67.90)" fill="#f3af4c"/><ellipse cx="1322.69" cy="70.01" rx="2.25" ry="3.6" transform="rotate(40.0 1322.69 70.01)" fill="#f3af4c"/><ellipse cx="1325.76" cy="75.34" rx="2.25" ry="3.6" transform="rotate(80.0 1325.76 75.34)" fill="#f3af4c"/><ellipse cx="1324.69" cy="81.40" rx="2.25" ry="3.6" transform="rotate(120.0 1324.69 81.40)" fill="#f3af4c"/><ellipse cx="1319.98" cy="85.36" rx="2.25" ry="3.6" transform="rotate(160.0 1319.98 85.36)" fill="#f3af4c"/><ellipse cx="1313.82" cy="85.36" rx="2.25" ry="3.6" transform="rotate(200.0 1313.82 85.36)" fill="#f3af4c"/><ellipse cx="1309.11" cy="81.40" rx="2.25" ry="3.6" transform="rotate(240.0 1309.11 81.40)" fill="#f3af4c"/><ellipse cx="1308.04" cy="75.34" rx="2.25" ry="3.6" transform="rotate(280.0 1308.04 75.34)" fill="#f3af4c"/><ellipse cx="1311.11" cy="70.01" rx="2.25" ry="3.6" transform="rotate(320.0 1311.11 70.01)" fill="#f3af4c"/><circle cx="1316.9" cy="76.9" r="3.1" fill="#f3af4c"/><path d="M1317,101.8 C1315,105 1310,110 1310,114.8 A7,7 0 0 0 1324,114.8 C1324,110 1319,105 1317,101.8 Z" fill="#ec4545"/><path d="M1311.9,137.3 L1313.6,139.8 L1316,140.8 L1318.6,139.6 L1322.4,137.3 L1320.8,140.6 L1323.3,141.5 L1328.4,142.7 L1325.6,144.6 L1329.2,148.2 L1326.1,148.9 L1326.2,151.5 L1325.2,153.2 L1322.4,154.6 L1317.5,155 L1313.6,154 L1309.2,157.7 L1311.2,152.6 L1309.8,149.5 L1309.7,145 L1310.2,142.5 L1311,140.6 Z" fill="#4c9f99" stroke="#4c9f99" stroke-width="0.6" stroke-linejoin="round"/><ellipse cx="1304" cy="144.3" rx="2.2" ry="1.6" fill="#4c9f99"/><circle cx="1305.3" cy="154" r="1.5" fill="#4c9f99"/><ellipse cx="1327" cy="137.2" rx="2" ry="1.3" fill="#4c9f99"/><circle cx="1317.1" cy="182.0" r="12.5" fill="none" stroke="#a9c43d" stroke-width="2.1"/><circle cx="1317.1" cy="185.4" r="9.1" fill="none" stroke="#a9c43d" stroke-width="2.1"/><circle cx="1317.1" cy="188.6" r="5.6" fill="none" stroke="#a9c43d" stroke-width="2.1"/><path transform="translate(1301.5,201.9) scale(1.29)" d="M12,21.35l-1.45-1.32C5.4,15.36 2,12.28 2,8.5 2,5.42 4.42,3 7.5,3c1.74,0 3.41,0.81 4.5,2.09C13.09,3.81 14.76,3 16.5,3 19.58,3 22,5.42 22,8.5c0,3.78-3.4,6.86-8.55,11.54L12,21.35z" fill="#c163c1"/><line x1="1304.3" y1="265.8" x2="1311.5" y2="257.5" stroke="#5a9a78" stroke-width="1.3"/><path d="M1310.8,257.3 Q1317.15,246.94 1308.6,238.3 Q1302.25,248.66 1310.8,257.3 Z" fill="#5fca8b"/><path d="M1313.0,256.0 Q1326.22,256.03 1329.8,243.3 Q1316.58,243.27 1313.0,256.0 Z" fill="#5fca8b"/><path d="M1312.5,259.3 Q1321.75,266.39 1331.8,260.5 Q1322.55,253.41 1312.5,259.3 Z" fill="#5fca8b"/><rect x="1311.9" y="273.9" width="10" height="4.9" fill="#f5a742"/><path d="M1312.5,280 L1321.3,280 Q1322.8,280 1322.8,282 L1322.8,299.7 L1310.9,299.7 L1310.9,282 Q1310.9,280 1312.5,280 Z" fill="#f5a742"/><rect x="1314.1" y="288" width="8" height="7" fill="#fff6ea"/><circle cx="1316.9" cy="322" r="11.9" fill="none" stroke="#5757a9" stroke-width="2.3"/><circle cx="1312.3" cy="318.6" r="1.8" fill="#5757a9"/><circle cx="1321.6" cy="318.6" r="1.8" fill="#5757a9"/><path d="M1311,324.8 L1323,324.8 Q1322,329.3 1317,329.3 Q1312,329.3 1311,324.8 Z" fill="#5757a9"/><path d="M1313,351.8 C1316,350.2 1320.5,350.3 1322.3,352.3 C1324.3,355 1325,360 1326.8,367.8 L1313.3,367.8 C1313.8,365.5 1314.8,364.3 1315.8,363.6 L1314.8,363.2 C1313.2,363 1312.4,361.5 1312.3,359.6 L1310.6,357.8 C1310.3,355.2 1311.2,353 1313,351.8 Z" fill="#e0509b"/><line x1="1308" y1="347.4" x2="1310.6" y2="349.6" stroke="#c0508a" stroke-width="1.4" stroke-linecap="round"/><line x1="1312.6" y1="344.6" x2="1313.6" y2="348.1" stroke="#c0508a" stroke-width="1.4" stroke-linecap="round"/><line x1="1317" y1="343.6" x2="1317" y2="347.6" stroke="#c0508a" stroke-width="1.4" stroke-linecap="round"/><line x1="1321.2" y1="344.6" x2="1320.2" y2="348.1" stroke="#c0508a" stroke-width="1.4" stroke-linecap="round"/><line x1="1325.6" y1="347.2" x2="1323.1" y2="349.6" stroke="#c0508a" stroke-width="1.4" stroke-linecap="round"/><circle cx="1315.6" cy="381.8" r="2.6" fill="#b39c7c"/><path d="M1312,386 L1318,386 Q1322.2,388.5 1322,394 L1321.5,397.6 L1318.6,397.6 L1318.6,404.4 L1314.4,404.4 L1314.4,397.6 L1312,397.6 Z" fill="#b39c7c"/><path d="M1322.6,402.5 L1325.5,405.3 L1331,399" fill="none" stroke="#a29a8a" stroke-width="2"/><ellipse cx="1316.80" cy="420.00" rx="1.8" ry="2.9" transform="rotate(0.0 1316.80 420.00)" fill="#b25878"/><ellipse cx="1321.30" cy="421.64" rx="1.8" ry="2.9" transform="rotate(40.0 1321.30 421.64)" fill="#b25878"/><ellipse cx="1323.69" cy="425.78" rx="1.8" ry="2.9" transform="rotate(80.0 1323.69 425.78)" fill="#b25878"/><ellipse cx="1322.86" cy="430.50" rx="1.8" ry="2.9" transform="rotate(120.0 1322.86 430.50)" fill="#b25878"/><ellipse cx="1319.19" cy="433.58" rx="1.8" ry="2.9" transform="rotate(160.0 1319.19 433.58)" fill="#b25878"/><ellipse cx="1314.41" cy="433.58" rx="1.8" ry="2.9" transform="rotate(200.0 1314.41 433.58)" fill="#b25878"/><ellipse cx="1310.74" cy="430.50" rx="1.8" ry="2.9" transform="rotate(240.0 1310.74 430.50)" fill="#b25878"/><ellipse cx="1309.91" cy="425.78" rx="1.8" ry="2.9" transform="rotate(280.0 1309.91 425.78)" fill="#b25878"/><ellipse cx="1312.30" cy="421.64" rx="1.8" ry="2.9" transform="rotate(320.0 1312.30 421.64)" fill="#b25878"/><circle cx="1316.8" cy="427.0" r="2.6" fill="#b25878"/><path d="M1322.5,437.3 L1326,440.8 L1331.5,433.5" fill="none" stroke="#b25878" stroke-width="2"/><ellipse cx="1316.90" cy="457.20" rx="1.25" ry="1.9" transform="rotate(0.0 1316.90 457.20)" fill="#5b8dc9"/><ellipse cx="1319.86" cy="458.28" rx="1.25" ry="1.9" transform="rotate(40.0 1319.86 458.28)" fill="#5b8dc9"/><ellipse cx="1321.43" cy="461.00" rx="1.25" ry="1.9" transform="rotate(80.0 1321.43 461.00)" fill="#5b8dc9"/><ellipse cx="1320.88" cy="464.10" rx="1.25" ry="1.9" transform="rotate(120.0 1320.88 464.10)" fill="#5b8dc9"/><ellipse cx="1318.47" cy="466.12" rx="1.25" ry="1.9" transform="rotate(160.0 1318.47 466.12)" fill="#5b8dc9"/><ellipse cx="1315.33" cy="466.12" rx="1.25" ry="1.9" transform="rotate(200.0 1315.33 466.12)" fill="#5b8dc9"/><ellipse cx="1312.92" cy="464.10" rx="1.25" ry="1.9" transform="rotate(240.0 1312.92 464.10)" fill="#5b8dc9"/><ellipse cx="1312.37" cy="461.00" rx="1.25" ry="1.9" transform="rotate(280.0 1312.37 461.00)" fill="#5b8dc9"/><ellipse cx="1313.94" cy="458.28" rx="1.25" ry="1.9" transform="rotate(320.0 1313.94 458.28)" fill="#5b8dc9"/><circle cx="1316.9" cy="461.8" r="2.3" fill="#5b8dc9"/><line x1="1303.5" y1="461.5" x2="1307.5" y2="461.5" stroke="#6a86aa" stroke-width="1.3" stroke-linecap="round"/><line x1="1326.2" y1="461.5" x2="1330.5" y2="461.5" stroke="#6a86aa" stroke-width="1.3" stroke-linecap="round"/><line x1="1306.3" y1="451" x2="1309.5" y2="453.7" stroke="#6a86aa" stroke-width="1.3" stroke-linecap="round"/><line x1="1327.3" y1="451.2" x2="1324.2" y2="454" stroke="#6a86aa" stroke-width="1.3" stroke-linecap="round"/><line x1="1306.3" y1="472.6" x2="1309.5" y2="470" stroke="#6a86aa" stroke-width="1.3" stroke-linecap="round"/><line x1="1327.3" y1="472.6" x2="1324.2" y2="470" stroke="#6a86aa" stroke-width="1.3" stroke-linecap="round"/><path d="M1308,485.8 L1315.8,485.8 C1317.5,490 1320,493 1322.7,496.5 C1322.7,500 1320.5,502.5 1317.8,502.8 L1316.8,506.8 L1308,506.8 Z" fill="#eca55c"/><line x1="1325" y1="500.6" x2="1330.5" y2="501.6" stroke="#a08e7c" stroke-width="1.3" stroke-linecap="round"/><line x1="1323.6" y1="503.4" x2="1327.6" y2="506.6" stroke="#a08e7c" stroke-width="1.3" stroke-linecap="round"/><line x1="1321.2" y1="506" x2="1322.6" y2="509.6" stroke="#a08e7c" stroke-width="1.3" stroke-linecap="round"/><ellipse cx="1317.6" cy="528.2" rx="7.6" ry="8.2" transform="rotate(20 1317.6 528.2)" fill="#5b5db1"/><path d="M1311.3,531.5 L1316.5,535.5 L1312,538.6 Z" fill="#5b5db1"/><path d="M1312.6,538.8 L1314.6,540.8 L1313,542.6 L1313.4,546.2" fill="none" stroke="#5b5db1" stroke-width="1.1"/><ellipse cx="1316.80" cy="559.90" rx="2.0" ry="3.0" transform="rotate(0.0 1316.80 559.90)" fill="#f1b130"/><ellipse cx="1321.36" cy="561.56" rx="2.0" ry="3.0" transform="rotate(40.0 1321.36 561.56)" fill="#f1b130"/><ellipse cx="1323.79" cy="565.77" rx="2.0" ry="3.0" transform="rotate(80.0 1323.79 565.77)" fill="#f1b130"/><ellipse cx="1322.95" cy="570.55" rx="2.0" ry="3.0" transform="rotate(120.0 1322.95 570.55)" fill="#f1b130"/><ellipse cx="1319.23" cy="573.67" rx="2.0" ry="3.0" transform="rotate(160.0 1319.23 573.67)" fill="#f1b130"/><ellipse cx="1314.37" cy="573.67" rx="2.0" ry="3.0" transform="rotate(200.0 1314.37 573.67)" fill="#f1b130"/><ellipse cx="1310.65" cy="570.55" rx="2.0" ry="3.0" transform="rotate(240.0 1310.65 570.55)" fill="#f1b130"/><ellipse cx="1309.81" cy="565.77" rx="2.0" ry="3.0" transform="rotate(280.0 1309.81 565.77)" fill="#f1b130"/><ellipse cx="1312.24" cy="561.56" rx="2.0" ry="3.0" transform="rotate(320.0 1312.24 561.56)" fill="#f1b130"/><circle cx="1316.8" cy="567.0" r="2.7" fill="#f1b130"/><rect x="1328.2" y="569.2" width="2.7" height="7.8" fill="#f1b130"/><rect x="1328.2" y="578.4" width="2.7" height="2.1" fill="#f1b130"/><circle cx="1316.9" cy="595.5" r="4.7" fill="#d17838"/><circle cx="1309.5" cy="608.3" r="4.7" fill="#d17838"/><circle cx="1324.3" cy="608.3" r="4.7" fill="#d17838"/><circle cx="1321.4" cy="627.6" r="3.1" fill="#3b83e1"/><path d="M1320.8,641 L1316,630.5 Q1312,630 1307.5,633.5 Q1305.5,636 1307,638.5 L1314.5,645.2" fill="none" stroke="#3b83e1" stroke-width="4.6" stroke-linejoin="round" stroke-linecap="round"/><path d="M1315,645.6 L1304.4,647.4" fill="none" stroke="#3b83e1" stroke-width="3.4" stroke-linecap="round"/><path d="M1320.3,634.7 L1331,634.7 L1331,643 L1325.8,643 Z" fill="#3b83e1"/><circle cx="1316.8" cy="659.9" r="2.3" fill="#f6a623"/><path d="M1313.2,663.3 L1320.4,663.3 L1322.6,672.5 L1321.6,672.5 L1321.7,676.4 L1319.6,676.4 L1319.6,685.5 L1314.2,685.5 L1314.2,676.4 L1311.9,676.4 L1312.1,672.5 L1311.1,672.5 Z" fill="#f6a623"/><line x1="1305.8" y1="663" x2="1308.6" y2="664.5" stroke="#d8b070" stroke-width="1" stroke-linecap="round"/><line x1="1305" y1="672.5" x2="1308" y2="672.5" stroke="#d8b070" stroke-width="1" stroke-linecap="round"/><line x1="1306.8" y1="682.5" x2="1309.6" y2="681" stroke="#d8b070" stroke-width="1" stroke-linecap="round"/><line x1="1328" y1="663" x2="1325.2" y2="664.5" stroke="#d8b070" stroke-width="1" stroke-linecap="round"/><line x1="1328.8" y1="672.5" x2="1325.8" y2="672.5" stroke="#d8b070" stroke-width="1" stroke-linecap="round"/><line x1="1327" y1="682.5" x2="1324.2" y2="681" stroke="#d8b070" stroke-width="1" stroke-linecap="round"/><path d="M1318.97,695.38 A9.8,9.8 0 0 1 1325.83,709.45" fill="none" stroke="#2f8ae0" stroke-width="5.2"/><path d="M1324.50,711.43 A9.8,9.8 0 0 1 1308.88,710.34" fill="none" stroke="#2f8ae0" stroke-width="5.2"/><path d="M1307.83,708.19 A9.8,9.8 0 0 1 1316.59,695.21" fill="none" stroke="#2f8ae0" stroke-width="5.2"/></svg></body></html>
